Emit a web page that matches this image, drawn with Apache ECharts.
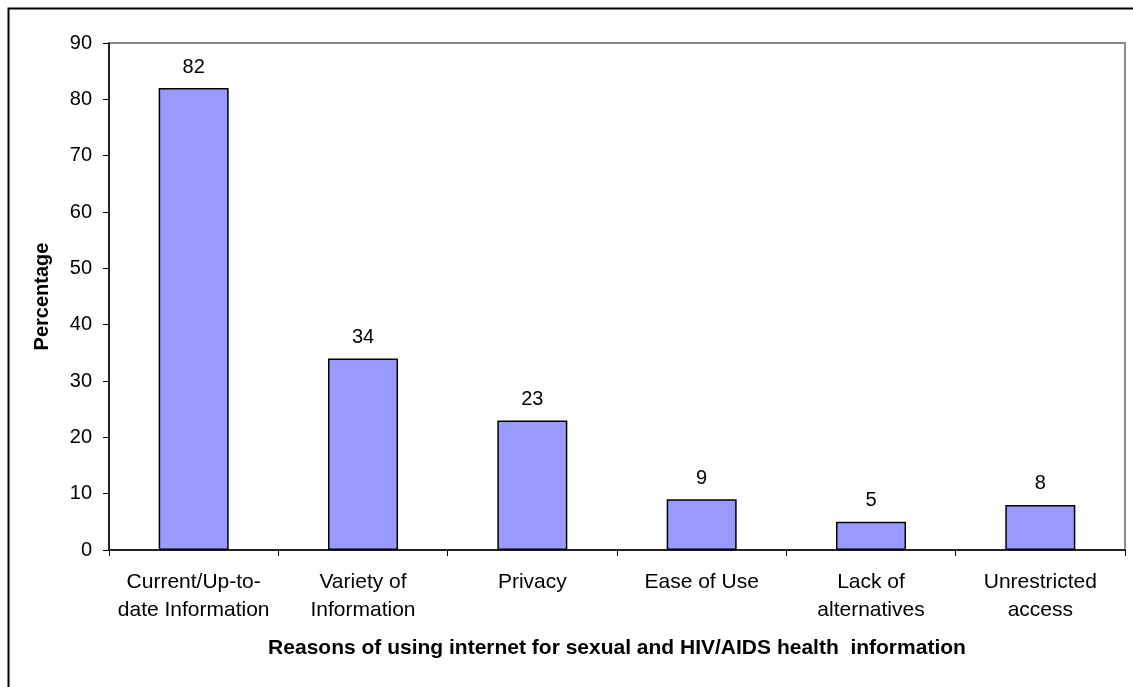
<!DOCTYPE html>
<html>
<head>
<meta charset="utf-8">
<script src="https://cdn.jsdelivr.net/npm/echarts@6/dist/echarts.min.js"></script>
<style>
  html, body { margin: 0; padding: 0; background: #fff; }
  #chart { width: 1133px; height: 687px; }
</style>
</head>
<body>
<div id="chart"></div>
<script>
// Reasons for using the internet for sexual and HIV/AIDS health information
const categories = [
  'Current/Up-to-\ndate Information',
  'Variety of\nInformation',
  'Privacy',
  'Ease of Use',
  'Lack of\nalternatives',
  'Unrestricted\naccess'
];
const percentages = [82, 34, 23, 9, 5, 8];
const yTicks = { min: 0, max: 90, interval: 10 };

const font = 'Arial, "Liberation Sans", sans-serif';
const chart = echarts.init(document.getElementById('chart'));

chart.setOption({
  backgroundColor: '#ffffff',
  animation: false,
  graphic: [{
    type: 'rect',
    left: 6, top: 6,
    shape: { width: 1200, height: 800 },
    style: { fill: 'none', stroke: '#000', lineWidth: 2 },
    z: 100
  }],
  grid: {
    left: 109, top: 43, right: 8, bottom: 137,
    show: true, borderColor: '#8c8c8c', borderWidth: 2, backgroundColor: '#fff'
  },
  xAxis: {
    type: 'category',
    data: categories,
    name: 'Reasons of using internet for sexual and HIV/AIDS health  information',
    nameLocation: 'middle',
    nameGap: 88,
    nameTextStyle: { fontFamily: font, fontSize: 21, fontWeight: 'bold', color: '#000' },
    axisLine: { lineStyle: { color: '#000', width: 1.5 } },
    axisTick: { show: true, length: 6, lineStyle: { color: '#000' } },
    axisLabel: {
      fontFamily: font, fontSize: 21, color: '#000', margin: 18,
      lineHeight: 28, interval: 0
    }
  },
  yAxis: {
    type: 'value',
    min: yTicks.min, max: yTicks.max, interval: yTicks.interval,
    name: 'Percentage',
    nameLocation: 'middle',
    nameGap: 57,
    nameTextStyle: { fontFamily: font, fontSize: 20, fontWeight: 'bold', color: '#000' },
    axisLine: { show: true, lineStyle: { color: '#000', width: 1.5 } },
    axisTick: { show: true, length: 6, lineStyle: { color: '#000' } },
    axisLabel: { fontFamily: font, fontSize: 20, color: '#000', margin: 17 },
    splitLine: { show: false }
  },
  series: [{
    type: 'bar',
    data: percentages,
    barWidth: 70,
    itemStyle: { color: '#9999ff', borderColor: '#000', borderWidth: 1.5 },
    label: {
      show: true, position: 'top', distance: 11,
      fontFamily: font, fontSize: 20, color: '#000'
    }
  }]
});
</script>
</body>
</html>
